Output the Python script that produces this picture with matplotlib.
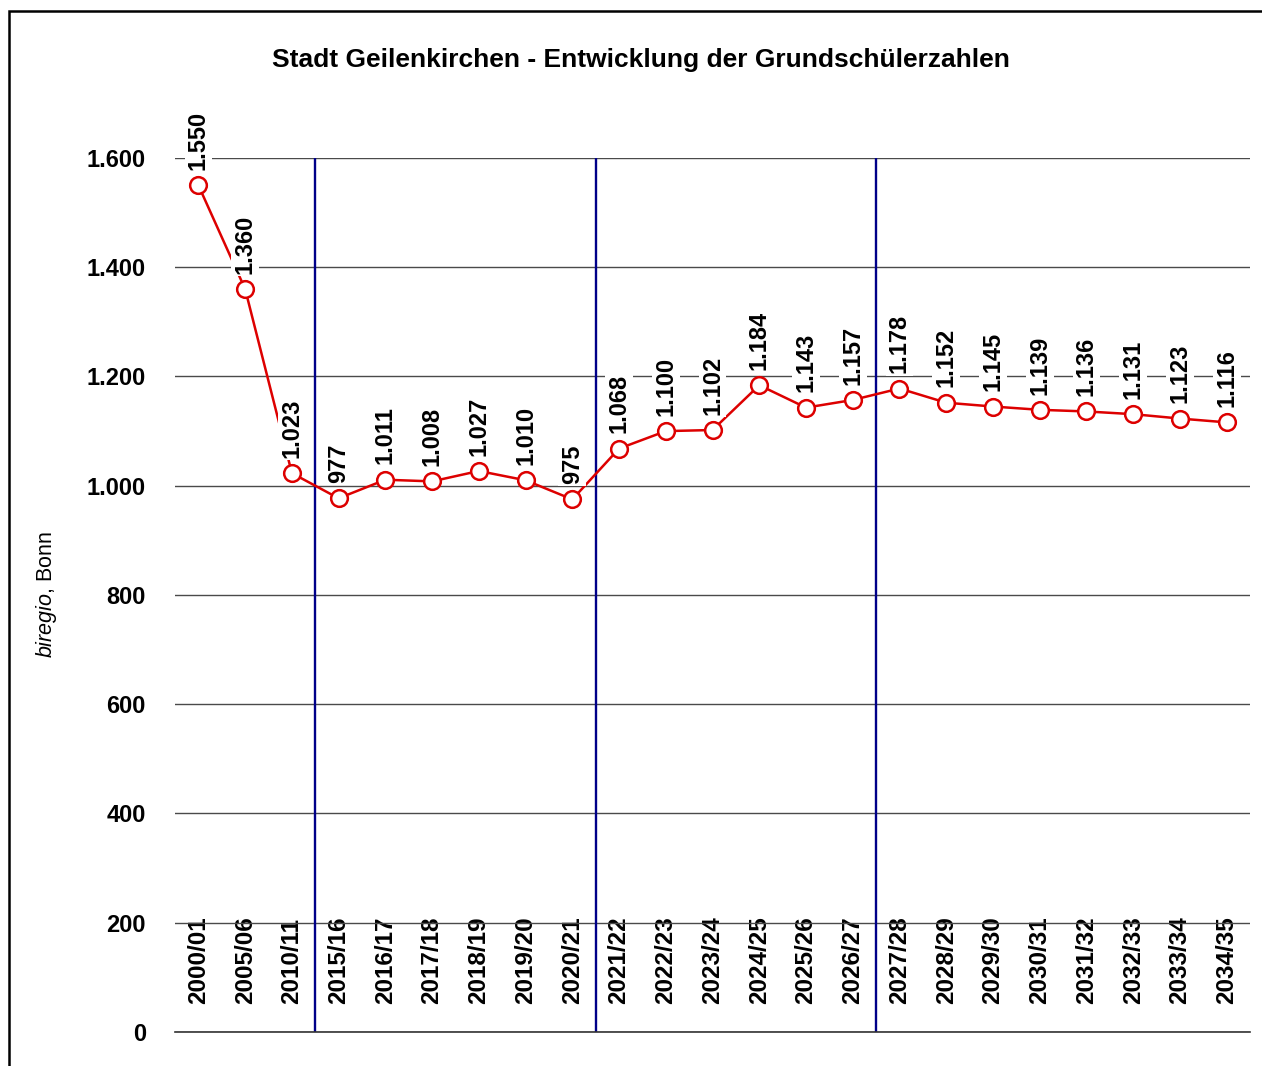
import numpy as np
import matplotlib
matplotlib.use("Agg")
import matplotlib.pyplot as plt
from matplotlib.patches import Rectangle
from matplotlib.ticker import FuncFormatter

plt.rcParams['font.family'] = ['Liberation Sans', 'DejaVu Sans']
plt.rcParams['mathtext.fontset'] = 'custom'
plt.rcParams['mathtext.it'] = 'Liberation Sans:italic'
plt.rcParams['mathtext.rm'] = 'Liberation Sans'

years = ['2000/01', '2005/06', '2010/11', '2015/16', '2016/17', '2017/18',
         '2018/19', '2019/20', '2020/21', '2021/22', '2022/23', '2023/24',
         '2024/25', '2025/26', '2026/27', '2027/28', '2028/29', '2029/30',
         '2030/31', '2031/32', '2032/33', '2033/34', '2034/35']
schueler = [1550, 1360, 1023, 977, 1011, 1008, 1027, 1010, 975, 1068, 1100,
            1102, 1184, 1143, 1157, 1178, 1152, 1145, 1139, 1136, 1131, 1123,
            1116]
# separators after 2010/11, 2020/21 and 2026/27
trennlinien = [2.5, 8.5, 14.5]


def de_format(v, pos=None):
    return f"{int(v):,}".replace(',', '.')


fig = plt.figure(figsize=(12.62, 10.66), dpi=100)
ax = fig.add_axes([0.1387, 0.0319, 0.8518, 0.8199])

x = np.arange(len(years))
ax.set_xlim(-0.5, len(years) - 0.5)
ax.set_ylim(0, 1600)
ax.set_yticks(np.arange(0, 1601, 200))
ax.yaxis.set_major_formatter(FuncFormatter(de_format))
ax.grid(axis='y', color='#4a4a4a', linewidth=1.0, zorder=0)

for s in ['top', 'right', 'left']:
    ax.spines[s].set_visible(False)
ax.spines['bottom'].set_color('#333333')
ax.spines['bottom'].set_linewidth(1.2)

for xv in trennlinien:
    ax.axvline(xv, color='#000088', linewidth=1.7, zorder=2)

ax.plot(x, schueler, color='#dd0000', linewidth=1.8, marker='o',
        markersize=12, markerfacecolor='white', markeredgecolor='#dd0000',
        markeredgewidth=1.8, zorder=3)

for xi, v in zip(x, schueler):
    ax.annotate(de_format(v), (xi, v), xytext=(0, 11), textcoords='offset points',
                rotation=90, ha='center', va='bottom', fontsize=17,
                fontweight='bold', zorder=5,
                bbox=dict(boxstyle='square,pad=0.1', fc='white', ec='none'))

ax.set_xticks(x)
ax.set_xticklabels(years, rotation=90, fontsize=17.5, fontweight='bold')
ax.tick_params(axis='x', length=0, pad=-20)
for lbl in ax.get_xticklabels():
    lbl.set_va('bottom')
    lbl.set_bbox(dict(boxstyle='square,pad=0.15', fc='white', ec='none'))
    lbl.set_zorder(5)

ax.tick_params(axis='y', length=0, pad=21, labelsize=17)
for lbl in ax.get_yticklabels():
    lbl.set_fontweight('bold')

fig.text(0.037, 0.442, r'$\mathit{biregio}$, Bonn', rotation=90,
         ha='center', va='center', fontsize=15.5)
fig.text(0.508, 0.9437, 'Stadt Geilenkirchen - Entwicklung der Grundschülerzahlen',
         ha='center', va='center', fontsize=19, fontweight='bold')

fig.patches.append(Rectangle((0.0071, -0.1), 1.2, 1.0896,
                             transform=fig.transFigure, fill=False,
                             edgecolor='black', linewidth=1.8))

fig.savefig('out.png', dpi=100)
